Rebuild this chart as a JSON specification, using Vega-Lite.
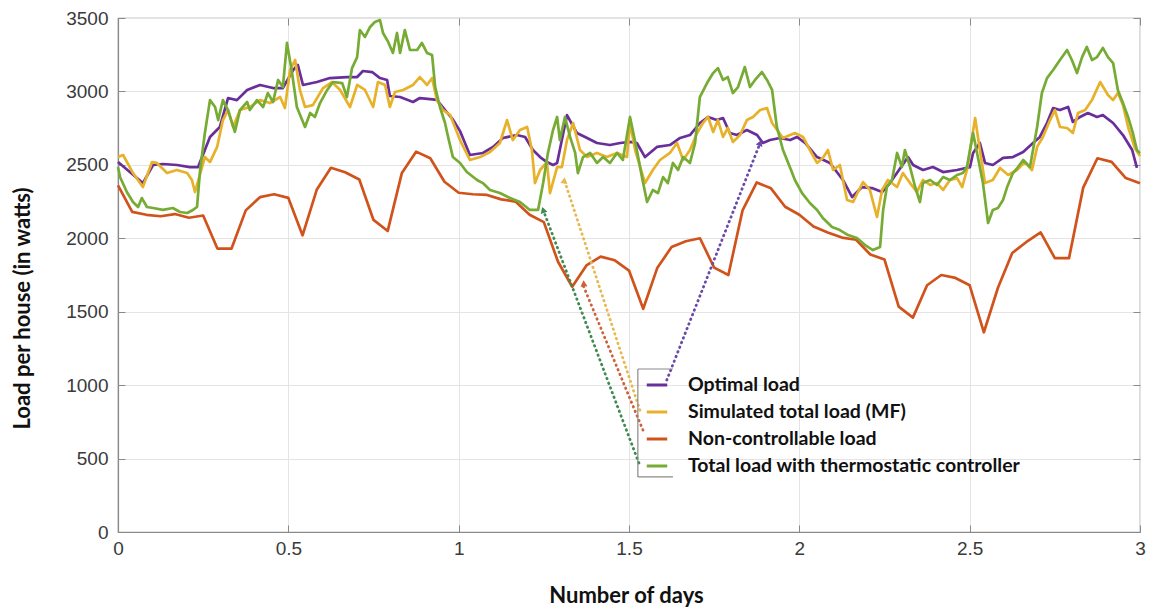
{
  "$schema": "https://vega.github.io/schema/vega-lite/v6.json",
  "width": 1022,
  "height": 514,
  "autosize": {"type": "none"},
  "padding": {"left": 118, "top": 18, "right": 11, "bottom": 75},
  "background": "white",
  "config": {
    "view": {"stroke": "#8a8a8a", "strokeWidth": 1.2},
    "axis": {
      "labelFont": "Liberation Sans", "labelFontSize": 19, "labelColor": "#3a3a3a",
      "titleFont": "Lato", "titleFontWeight": "bold", "titleFontSize": 22, "titleColor": "#111111",
      "domainColor": "#8a8a8a", "domainWidth": 1.2, "tickColor": "#8a8a8a", "tickSize": -7,
      "gridColor": "#e4e4e4", "gridWidth": 1
    }
  },
  "datasets": {
    "optimal": [
      {"day":0,"load":2519},{"day":0.073,"load":2376},{"day":0.103,"load":2499},{"day":0.132,"load":2506},{"day":0.173,"load":2499},{"day":0.211,"load":2485},{"day":0.235,"load":2485},{"day":0.255,"load":2601},{"day":0.27,"load":2690},{"day":0.299,"load":2758},{"day":0.323,"load":2955},{"day":0.349,"load":2941},{"day":0.379,"load":3010},{"day":0.417,"load":3044},{"day":0.455,"load":3023},{"day":0.484,"load":3023},{"day":0.514,"load":3146},{"day":0.528,"load":3180},{"day":0.543,"load":3044},{"day":0.584,"load":3064},{"day":0.622,"load":3091},{"day":0.672,"load":3098},{"day":0.702,"load":3098},{"day":0.719,"load":3139},{"day":0.746,"load":3132},{"day":0.769,"load":3091},{"day":0.79,"load":3078},{"day":0.798,"load":2969},{"day":0.828,"load":2962},{"day":0.866,"load":2928},{"day":0.886,"load":2955},{"day":0.916,"load":2948},{"day":0.936,"load":2942},{"day":0.96,"load":2873},{"day":0.983,"load":2810},{"day":1.004,"load":2730},{"day":1.033,"load":2567},{"day":1.071,"load":2581},{"day":1.101,"load":2622},{"day":1.13,"load":2683},{"day":1.171,"load":2703},{"day":1.195,"load":2690},{"day":1.218,"load":2601},{"day":1.239,"load":2553},{"day":1.259,"load":2519},{"day":1.277,"load":2499},{"day":1.289,"load":2513},{"day":1.318,"load":2839},{"day":1.347,"load":2717},{"day":1.377,"load":2683},{"day":1.406,"load":2649},{"day":1.444,"load":2635},{"day":1.474,"load":2649},{"day":1.503,"load":2656},{"day":1.523,"load":2649},{"day":1.547,"load":2553},{"day":1.582,"load":2622},{"day":1.62,"load":2635},{"day":1.65,"load":2683},{"day":1.679,"load":2703},{"day":1.708,"load":2785},{"day":1.732,"load":2826},{"day":1.758,"load":2805},{"day":1.776,"load":2819},{"day":1.796,"load":2717},{"day":1.817,"load":2703},{"day":1.846,"load":2737},{"day":1.876,"load":2703},{"day":1.893,"load":2649},{"day":1.914,"load":2669},{"day":1.943,"load":2683},{"day":1.973,"load":2669},{"day":1.993,"load":2690},{"day":2.017,"load":2649},{"day":2.052,"load":2553},{"day":2.09,"load":2513},{"day":2.128,"load":2397},{"day":2.155,"load":2281},{"day":2.184,"load":2349},{"day":2.213,"load":2342},{"day":2.243,"load":2315},{"day":2.266,"load":2376},{"day":2.319,"load":2553},{"day":2.334,"load":2499},{"day":2.363,"load":2465},{"day":2.392,"load":2485},{"day":2.422,"load":2451},{"day":2.463,"load":2465},{"day":2.501,"load":2485},{"day":2.51,"load":2581},{"day":2.53,"load":2649},{"day":2.545,"load":2513},{"day":2.568,"load":2499},{"day":2.598,"load":2547},{"day":2.627,"load":2553},{"day":2.657,"load":2588},{"day":2.686,"load":2649},{"day":2.706,"load":2690},{"day":2.727,"load":2785},{"day":2.745,"load":2887},{"day":2.765,"load":2873},{"day":2.789,"load":2894},{"day":2.803,"load":2792},{"day":2.824,"load":2826},{"day":2.847,"load":2853},{"day":2.874,"load":2826},{"day":2.891,"load":2839},{"day":2.921,"load":2785},{"day":2.95,"load":2703},{"day":2.977,"load":2601},{"day":2.991,"load":2479}
    ],
    "simulated": [
      {"day":0,"load":2553},{"day":0.015,"load":2567},{"day":0.044,"load":2444},{"day":0.073,"load":2349},{"day":0.1,"load":2519},{"day":0.114,"load":2513},{"day":0.144,"load":2444},{"day":0.173,"load":2465},{"day":0.203,"load":2444},{"day":0.217,"load":2397},{"day":0.226,"load":2315},{"day":0.255,"load":2553},{"day":0.27,"load":2519},{"day":0.291,"load":2622},{"day":0.308,"load":2805},{"day":0.323,"load":2873},{"day":0.338,"load":2758},{"day":0.358,"load":2873},{"day":0.387,"load":2894},{"day":0.417,"load":2941},{"day":0.446,"load":2921},{"day":0.476,"load":2962},{"day":0.49,"load":2887},{"day":0.505,"load":3146},{"day":0.52,"load":3214},{"day":0.534,"load":3010},{"day":0.549,"load":2894},{"day":0.572,"load":2907},{"day":0.602,"load":3023},{"day":0.628,"load":3064},{"day":0.652,"load":3010},{"day":0.681,"load":2894},{"day":0.702,"load":3044},{"day":0.725,"load":3010},{"day":0.749,"load":2894},{"day":0.763,"load":3064},{"day":0.784,"load":3044},{"day":0.798,"load":2894},{"day":0.813,"load":2996},{"day":0.837,"load":3010},{"day":0.866,"load":3044},{"day":0.886,"load":3098},{"day":0.907,"load":3044},{"day":0.922,"load":3091},{"day":0.936,"load":2942},{"day":0.954,"load":2873},{"day":0.975,"load":2840},{"day":1.004,"load":2669},{"day":1.033,"load":2533},{"day":1.063,"load":2553},{"day":1.092,"load":2588},{"day":1.121,"load":2649},{"day":1.142,"load":2805},{"day":1.159,"load":2669},{"day":1.18,"load":2737},{"day":1.201,"load":2758},{"day":1.215,"load":2601},{"day":1.224,"load":2376},{"day":1.239,"load":2465},{"day":1.259,"load":2519},{"day":1.268,"load":2308},{"day":1.289,"load":2485},{"day":1.303,"load":2485},{"day":1.318,"load":2669},{"day":1.336,"load":2785},{"day":1.356,"load":2601},{"day":1.377,"load":2553},{"day":1.406,"load":2581},{"day":1.435,"load":2553},{"day":1.465,"load":2581},{"day":1.494,"load":2553},{"day":1.503,"load":2785},{"day":1.518,"load":2601},{"day":1.547,"load":2376},{"day":1.57,"load":2465},{"day":1.591,"load":2533},{"day":1.62,"load":2581},{"day":1.641,"load":2649},{"day":1.659,"load":2533},{"day":1.679,"load":2601},{"day":1.7,"load":2717},{"day":1.717,"load":2785},{"day":1.732,"load":2826},{"day":1.747,"load":2724},{"day":1.761,"load":2805},{"day":1.776,"load":2690},{"day":1.79,"load":2751},{"day":1.805,"load":2656},{"day":1.826,"load":2703},{"day":1.846,"load":2805},{"day":1.864,"load":2826},{"day":1.885,"load":2873},{"day":1.905,"load":2887},{"day":1.92,"load":2785},{"day":1.952,"load":2683},{"day":1.987,"load":2717},{"day":2.011,"load":2690},{"day":2.031,"load":2601},{"day":2.052,"load":2513},{"day":2.069,"load":2547},{"day":2.084,"load":2601},{"day":2.099,"load":2465},{"day":2.119,"load":2499},{"day":2.14,"load":2261},{"day":2.158,"load":2247},{"day":2.172,"load":2315},{"day":2.187,"load":2383},{"day":2.207,"load":2329},{"day":2.228,"load":2145},{"day":2.243,"load":2329},{"day":2.26,"load":2397},{"day":2.287,"load":2349},{"day":2.304,"load":2444},{"day":2.325,"load":2376},{"day":2.345,"load":2315},{"day":2.363,"load":2397},{"day":2.384,"load":2363},{"day":2.404,"load":2376},{"day":2.422,"load":2329},{"day":2.442,"load":2397},{"day":2.463,"load":2410},{"day":2.478,"load":2349},{"day":2.492,"load":2465},{"day":2.516,"load":2819},{"day":2.53,"load":2601},{"day":2.545,"load":2376},{"day":2.568,"load":2397},{"day":2.589,"load":2479},{"day":2.613,"load":2431},{"day":2.639,"load":2465},{"day":2.662,"load":2519},{"day":2.683,"load":2465},{"day":2.698,"load":2622},{"day":2.715,"load":2690},{"day":2.736,"load":2805},{"day":2.75,"load":2873},{"day":2.765,"load":2758},{"day":2.786,"load":2751},{"day":2.803,"load":2717},{"day":2.818,"load":2853},{"day":2.839,"load":2873},{"day":2.859,"load":2941},{"day":2.883,"load":3064},{"day":2.906,"load":2976},{"day":2.921,"load":2941},{"day":2.935,"load":2989},{"day":2.95,"load":2907},{"day":2.965,"load":2758},{"day":2.985,"load":2615},{"day":3,"load":2560}
    ],
    "noncontrollable": [
      {"day":0,"load":2360},{"day":0.0417,"load":2180},{"day":0.0833,"load":2160},{"day":0.125,"load":2150},{"day":0.1667,"load":2165},{"day":0.2083,"load":2140},{"day":0.25,"load":2155},{"day":0.2917,"load":1930},{"day":0.3333,"load":1930},{"day":0.375,"load":2190},{"day":0.4167,"load":2280},{"day":0.4583,"load":2300},{"day":0.5,"load":2275},{"day":0.5417,"load":2020},{"day":0.5833,"load":2330},{"day":0.625,"load":2480},{"day":0.6667,"load":2450},{"day":0.7083,"load":2400},{"day":0.75,"load":2125},{"day":0.7917,"load":2050},{"day":0.8333,"load":2445},{"day":0.875,"load":2590},{"day":0.9167,"load":2545},{"day":0.9583,"load":2385},{"day":1,"load":2310},{"day":1.0417,"load":2300},{"day":1.0833,"load":2295},{"day":1.125,"load":2265},{"day":1.1667,"load":2250},{"day":1.2083,"load":2160},{"day":1.25,"load":2110},{"day":1.2917,"load":1840},{"day":1.3333,"load":1670},{"day":1.375,"load":1815},{"day":1.4167,"load":1875},{"day":1.4583,"load":1850},{"day":1.5,"load":1780},{"day":1.5417,"load":1520},{"day":1.5833,"load":1800},{"day":1.625,"load":1940},{"day":1.6667,"load":1980},{"day":1.7083,"load":2000},{"day":1.75,"load":1800},{"day":1.7917,"load":1750},{"day":1.8333,"load":2190},{"day":1.875,"load":2380},{"day":1.9167,"load":2340},{"day":1.9583,"load":2215},{"day":2,"load":2160},{"day":2.0417,"load":2080},{"day":2.0833,"load":2040},{"day":2.125,"load":2005},{"day":2.1667,"load":1990},{"day":2.2083,"load":1890},{"day":2.25,"load":1855},{"day":2.2917,"load":1535},{"day":2.3333,"load":1460},{"day":2.375,"load":1680},{"day":2.4167,"load":1750},{"day":2.4583,"load":1730},{"day":2.5,"load":1680},{"day":2.5417,"load":1360},{"day":2.5833,"load":1665},{"day":2.625,"load":1900},{"day":2.6667,"load":1975},{"day":2.7083,"load":2040},{"day":2.75,"load":1865},{"day":2.7917,"load":1865},{"day":2.8333,"load":2345},{"day":2.875,"load":2545},{"day":2.9167,"load":2520},{"day":2.9583,"load":2410},{"day":3,"load":2375}
    ],
    "thermostatic": [
      {"day":0,"load":2485},{"day":0.006,"load":2417},{"day":0.026,"load":2315},{"day":0.044,"load":2247},{"day":0.059,"load":2213},{"day":0.07,"load":2274},{"day":0.085,"load":2213},{"day":0.103,"load":2206},{"day":0.132,"load":2193},{"day":0.161,"load":2206},{"day":0.182,"load":2179},{"day":0.203,"load":2172},{"day":0.22,"load":2193},{"day":0.232,"load":2213},{"day":0.241,"load":2465},{"day":0.255,"load":2717},{"day":0.27,"load":2941},{"day":0.285,"load":2894},{"day":0.294,"load":2805},{"day":0.308,"load":2941},{"day":0.323,"load":2873},{"day":0.343,"load":2724},{"day":0.358,"load":2873},{"day":0.379,"load":2928},{"day":0.387,"load":2873},{"day":0.408,"load":2941},{"day":0.426,"load":2894},{"day":0.44,"load":2989},{"day":0.455,"load":2928},{"day":0.47,"load":3078},{"day":0.484,"load":3030},{"day":0.496,"load":3330},{"day":0.511,"load":3125},{"day":0.525,"load":2894},{"day":0.549,"load":2758},{"day":0.564,"load":2853},{"day":0.578,"load":2826},{"day":0.593,"load":2921},{"day":0.614,"load":3010},{"day":0.631,"load":3064},{"day":0.658,"load":3057},{"day":0.672,"load":2962},{"day":0.687,"load":3159},{"day":0.702,"load":3234},{"day":0.71,"load":3418},{"day":0.725,"load":3371},{"day":0.74,"load":3439},{"day":0.754,"load":3473},{"day":0.769,"load":3486},{"day":0.778,"load":3398},{"day":0.793,"load":3337},{"day":0.807,"load":3262},{"day":0.819,"load":3398},{"day":0.828,"load":3262},{"day":0.842,"load":3418},{"day":0.857,"load":3282},{"day":0.878,"load":3282},{"day":0.892,"load":3330},{"day":0.907,"load":3262},{"day":0.922,"load":3248},{"day":0.931,"load":3030},{"day":0.945,"load":2894},{"day":0.96,"load":2785},{"day":0.969,"load":2690},{"day":0.983,"load":2553},{"day":1.004,"load":2513},{"day":1.024,"load":2451},{"day":1.054,"load":2397},{"day":1.071,"load":2376},{"day":1.092,"load":2329},{"day":1.121,"load":2308},{"day":1.151,"load":2274},{"day":1.18,"load":2247},{"day":1.209,"load":2193},{"day":1.233,"load":2193},{"day":1.248,"load":2376},{"day":1.262,"load":2581},{"day":1.277,"load":2737},{"day":1.289,"load":2826},{"day":1.297,"load":2669},{"day":1.312,"load":2826},{"day":1.327,"load":2690},{"day":1.342,"load":2581},{"day":1.35,"load":2444},{"day":1.365,"load":2553},{"day":1.386,"load":2581},{"day":1.406,"load":2513},{"day":1.424,"load":2553},{"day":1.444,"load":2513},{"day":1.465,"load":2581},{"day":1.482,"load":2533},{"day":1.503,"load":2826},{"day":1.523,"load":2601},{"day":1.538,"load":2417},{"day":1.553,"load":2247},{"day":1.57,"load":2329},{"day":1.585,"load":2308},{"day":1.6,"load":2417},{"day":1.614,"load":2376},{"day":1.629,"load":2513},{"day":1.644,"load":2465},{"day":1.659,"load":2553},{"day":1.679,"load":2513},{"day":1.694,"load":2649},{"day":1.708,"load":2962},{"day":1.729,"load":3057},{"day":1.747,"load":3125},{"day":1.761,"load":3159},{"day":1.776,"load":3078},{"day":1.79,"load":3098},{"day":1.805,"load":2989},{"day":1.82,"load":3030},{"day":1.84,"load":3166},{"day":1.855,"load":3030},{"day":1.87,"load":3078},{"day":1.89,"load":3132},{"day":1.905,"load":3078},{"day":1.92,"load":3010},{"day":1.934,"load":2758},{"day":1.952,"load":2601},{"day":1.973,"load":2480},{"day":1.987,"load":2397},{"day":2.008,"load":2308},{"day":2.031,"load":2240},{"day":2.052,"load":2193},{"day":2.069,"load":2138},{"day":2.096,"load":2077},{"day":2.119,"load":2056},{"day":2.143,"load":2022},{"day":2.169,"load":2002},{"day":2.193,"load":1954},{"day":2.216,"load":1920},{"day":2.237,"load":1941},{"day":2.246,"load":2193},{"day":2.257,"load":2349},{"day":2.272,"load":2397},{"day":2.287,"load":2581},{"day":2.301,"load":2485},{"day":2.31,"load":2601},{"day":2.325,"load":2485},{"day":2.34,"load":2349},{"day":2.354,"load":2247},{"day":2.363,"load":2376},{"day":2.384,"load":2397},{"day":2.404,"load":2363},{"day":2.422,"load":2417},{"day":2.442,"load":2397},{"day":2.463,"load":2431},{"day":2.48,"load":2444},{"day":2.492,"load":2485},{"day":2.51,"load":2717},{"day":2.524,"load":2553},{"day":2.539,"load":2376},{"day":2.554,"load":2104},{"day":2.568,"load":2193},{"day":2.583,"load":2206},{"day":2.598,"load":2261},{"day":2.61,"load":2349},{"day":2.627,"load":2444},{"day":2.642,"load":2485},{"day":2.657,"load":2533},{"day":2.677,"load":2485},{"day":2.698,"load":2758},{"day":2.712,"load":2989},{"day":2.727,"load":3091},{"day":2.745,"load":3146},{"day":2.765,"load":3214},{"day":2.786,"load":3282},{"day":2.8,"load":3214},{"day":2.815,"load":3125},{"day":2.83,"load":3234},{"day":2.844,"load":3303},{"day":2.859,"load":3214},{"day":2.874,"load":3234},{"day":2.891,"load":3296},{"day":2.906,"load":3234},{"day":2.921,"load":3193},{"day":2.935,"load":3010},{"day":2.95,"load":2921},{"day":2.965,"load":2826},{"day":2.979,"load":2717},{"day":2.991,"load":2601},{"day":3,"load":2580}
    ],
    "arrows": [
      {"series":"Optimal load","x":1.611,"y":1035,"x2":1.885,"y2":2649},
      {"series":"Simulated total load (MF)","x":1.532,"y":830,"x2":1.312,"y2":2383},
      {"series":"Non-controllable load","x":1.541,"y":694,"x2":1.365,"y2":1682},
      {"series":"Total load with thermostatic controller","x":1.529,"y":470,"x2":1.248,"y2":2193}
    ],
    "legendbox": [
      {"x":1.526,"y":1110,"x2":1.526,"y2":375},
      {"x":1.526,"y":1110,"x2":1.629,"y2":1110},
      {"x":1.526,"y":375,"x2":1.629,"y2":375}
    ]
  },
  "layer": [
    {
      "encoding": {
        "x": {"field": "day", "type": "quantitative", "title": "Number of days",
          "scale": {"domain": [0, 3], "nice": false},
          "axis": {"values": [0, 0.5, 1, 1.5, 2, 2.5, 3], "format": "~g", "labelPadding": 14, "labelFlush": false,
            "titleX": 508, "titleY": 63, "titleBaseline": "middle", "titleAlign": "center"}},
        "y": {"field": "load", "type": "quantitative", "title": "Load per house (in watts)",
          "scale": {"domain": [0, 3500], "nice": false},
          "axis": {"values": [0, 500, 1000, 1500, 2000, 2500, 3000, 3500], "format": "d", "labelPadding": 17, "labelFlush": false,
            "titleX": -96, "titleY": 290, "titleBaseline": "middle", "titleAlign": "center"}}
      },
      "layer": [
        {"data": {"name": "optimal"}, "mark": {"type": "line", "strokeWidth": 2.7, "strokeJoin": "round"},
          "encoding": {"color": {"datum": "Optimal load", "type": "nominal",
            "scale": {"domain": ["Optimal load", "Simulated total load (MF)", "Non-controllable load", "Total load with thermostatic controller"],
              "range": ["#6a2e9b", "#e8b12a", "#d1531c", "#76ab34"]},
            "legend": {"orient": "none", "legendX": 527, "legendY": 355, "title": null, "symbolType": "stroke",
              "symbolSize": 420, "symbolStrokeWidth": 3, "labelFont": "Lato", "labelFontWeight": "bold",
              "labelFontSize": 19.5, "labelColor": "#111111", "labelOffset": 19, "rowPadding": 5,
              "padding": 0, "labelLimit": 0}}}},
        {"data": {"name": "simulated"}, "mark": {"type": "line", "strokeWidth": 2.7, "strokeJoin": "round"},
          "encoding": {"color": {"datum": "Simulated total load (MF)", "type": "nominal"}}},
        {"data": {"name": "noncontrollable"}, "mark": {"type": "line", "strokeWidth": 2.7, "strokeJoin": "round"},
          "encoding": {"color": {"datum": "Non-controllable load", "type": "nominal"}}},
        {"data": {"name": "thermostatic"}, "mark": {"type": "line", "strokeWidth": 2.7, "strokeJoin": "round"},
          "encoding": {"color": {"datum": "Total load with thermostatic controller", "type": "nominal"}}}
      ]
    },
    {
      "layer": [
        {"data": {"name": "arrows"},
          "mark": {"type": "rule", "strokeWidth": 2.8, "strokeDash": [0.5, 4.5], "strokeCap": "round"},
          "encoding": {
            "x": {"field": "x", "type": "quantitative", "axis": {"orient": "top", "values": [0, 0.5, 1, 1.5, 2, 2.5, 3], "labels": false, "title": null, "grid": false, "domain": false}},
            "y": {"field": "y", "type": "quantitative", "axis": {"orient": "right", "values": [0, 500, 1000, 1500, 2000, 2500, 3000, 3500], "labels": false, "title": null, "grid": false, "domain": false}},
            "x2": {"field": "x2"}, "y2": {"field": "y2"},
            "color": {"field": "series", "type": "nominal", "legend": null,
              "scale": {"domain": ["Optimal load", "Simulated total load (MF)", "Non-controllable load", "Total load with thermostatic controller"],
                "range": ["#6a4aa8", "#e6b84e", "#d0603a", "#3f8a50"]}}
          }},
        {"data": {"name": "arrows"},
          "mark": {"type": "point", "shape": "triangle-up", "filled": true, "size": 50, "opacity": 1},
          "encoding": {
            "x": {"field": "x2", "type": "quantitative", "axis": {"orient": "top", "values": [0, 0.5, 1, 1.5, 2, 2.5, 3], "labels": false, "title": null, "grid": false, "domain": false}},
            "y": {"field": "y2", "type": "quantitative", "axis": {"orient": "right", "values": [0, 500, 1000, 1500, 2000, 2500, 3000, 3500], "labels": false, "title": null, "grid": false, "domain": false}},
            "color": {"field": "series", "type": "nominal", "legend": null},
            "angle": {"field": "series", "type": "nominal", "legend": null,
              "scale": {"domain": ["Optimal load", "Simulated total load (MF)", "Non-controllable load", "Total load with thermostatic controller"],
                "range": [21, 342, 337, 339]}}
          }},
        {"data": {"name": "legendbox"},
          "mark": {"type": "rule", "strokeWidth": 1.2, "color": "#8a8a8a"},
          "encoding": {
            "x": {"field": "x", "type": "quantitative", "axis": {"orient": "top", "values": [0, 0.5, 1, 1.5, 2, 2.5, 3], "labels": false, "title": null, "grid": false, "domain": false}},
            "y": {"field": "y", "type": "quantitative", "axis": {"orient": "right", "values": [0, 500, 1000, 1500, 2000, 2500, 3000, 3500], "labels": false, "title": null, "grid": false, "domain": false}},
            "x2": {"field": "x2"}, "y2": {"field": "y2"}
          }}
      ]
    }
  ],
  "resolve": {"scale": {"color": "independent"}, "axis": {"x": "independent", "y": "independent"}}
}
